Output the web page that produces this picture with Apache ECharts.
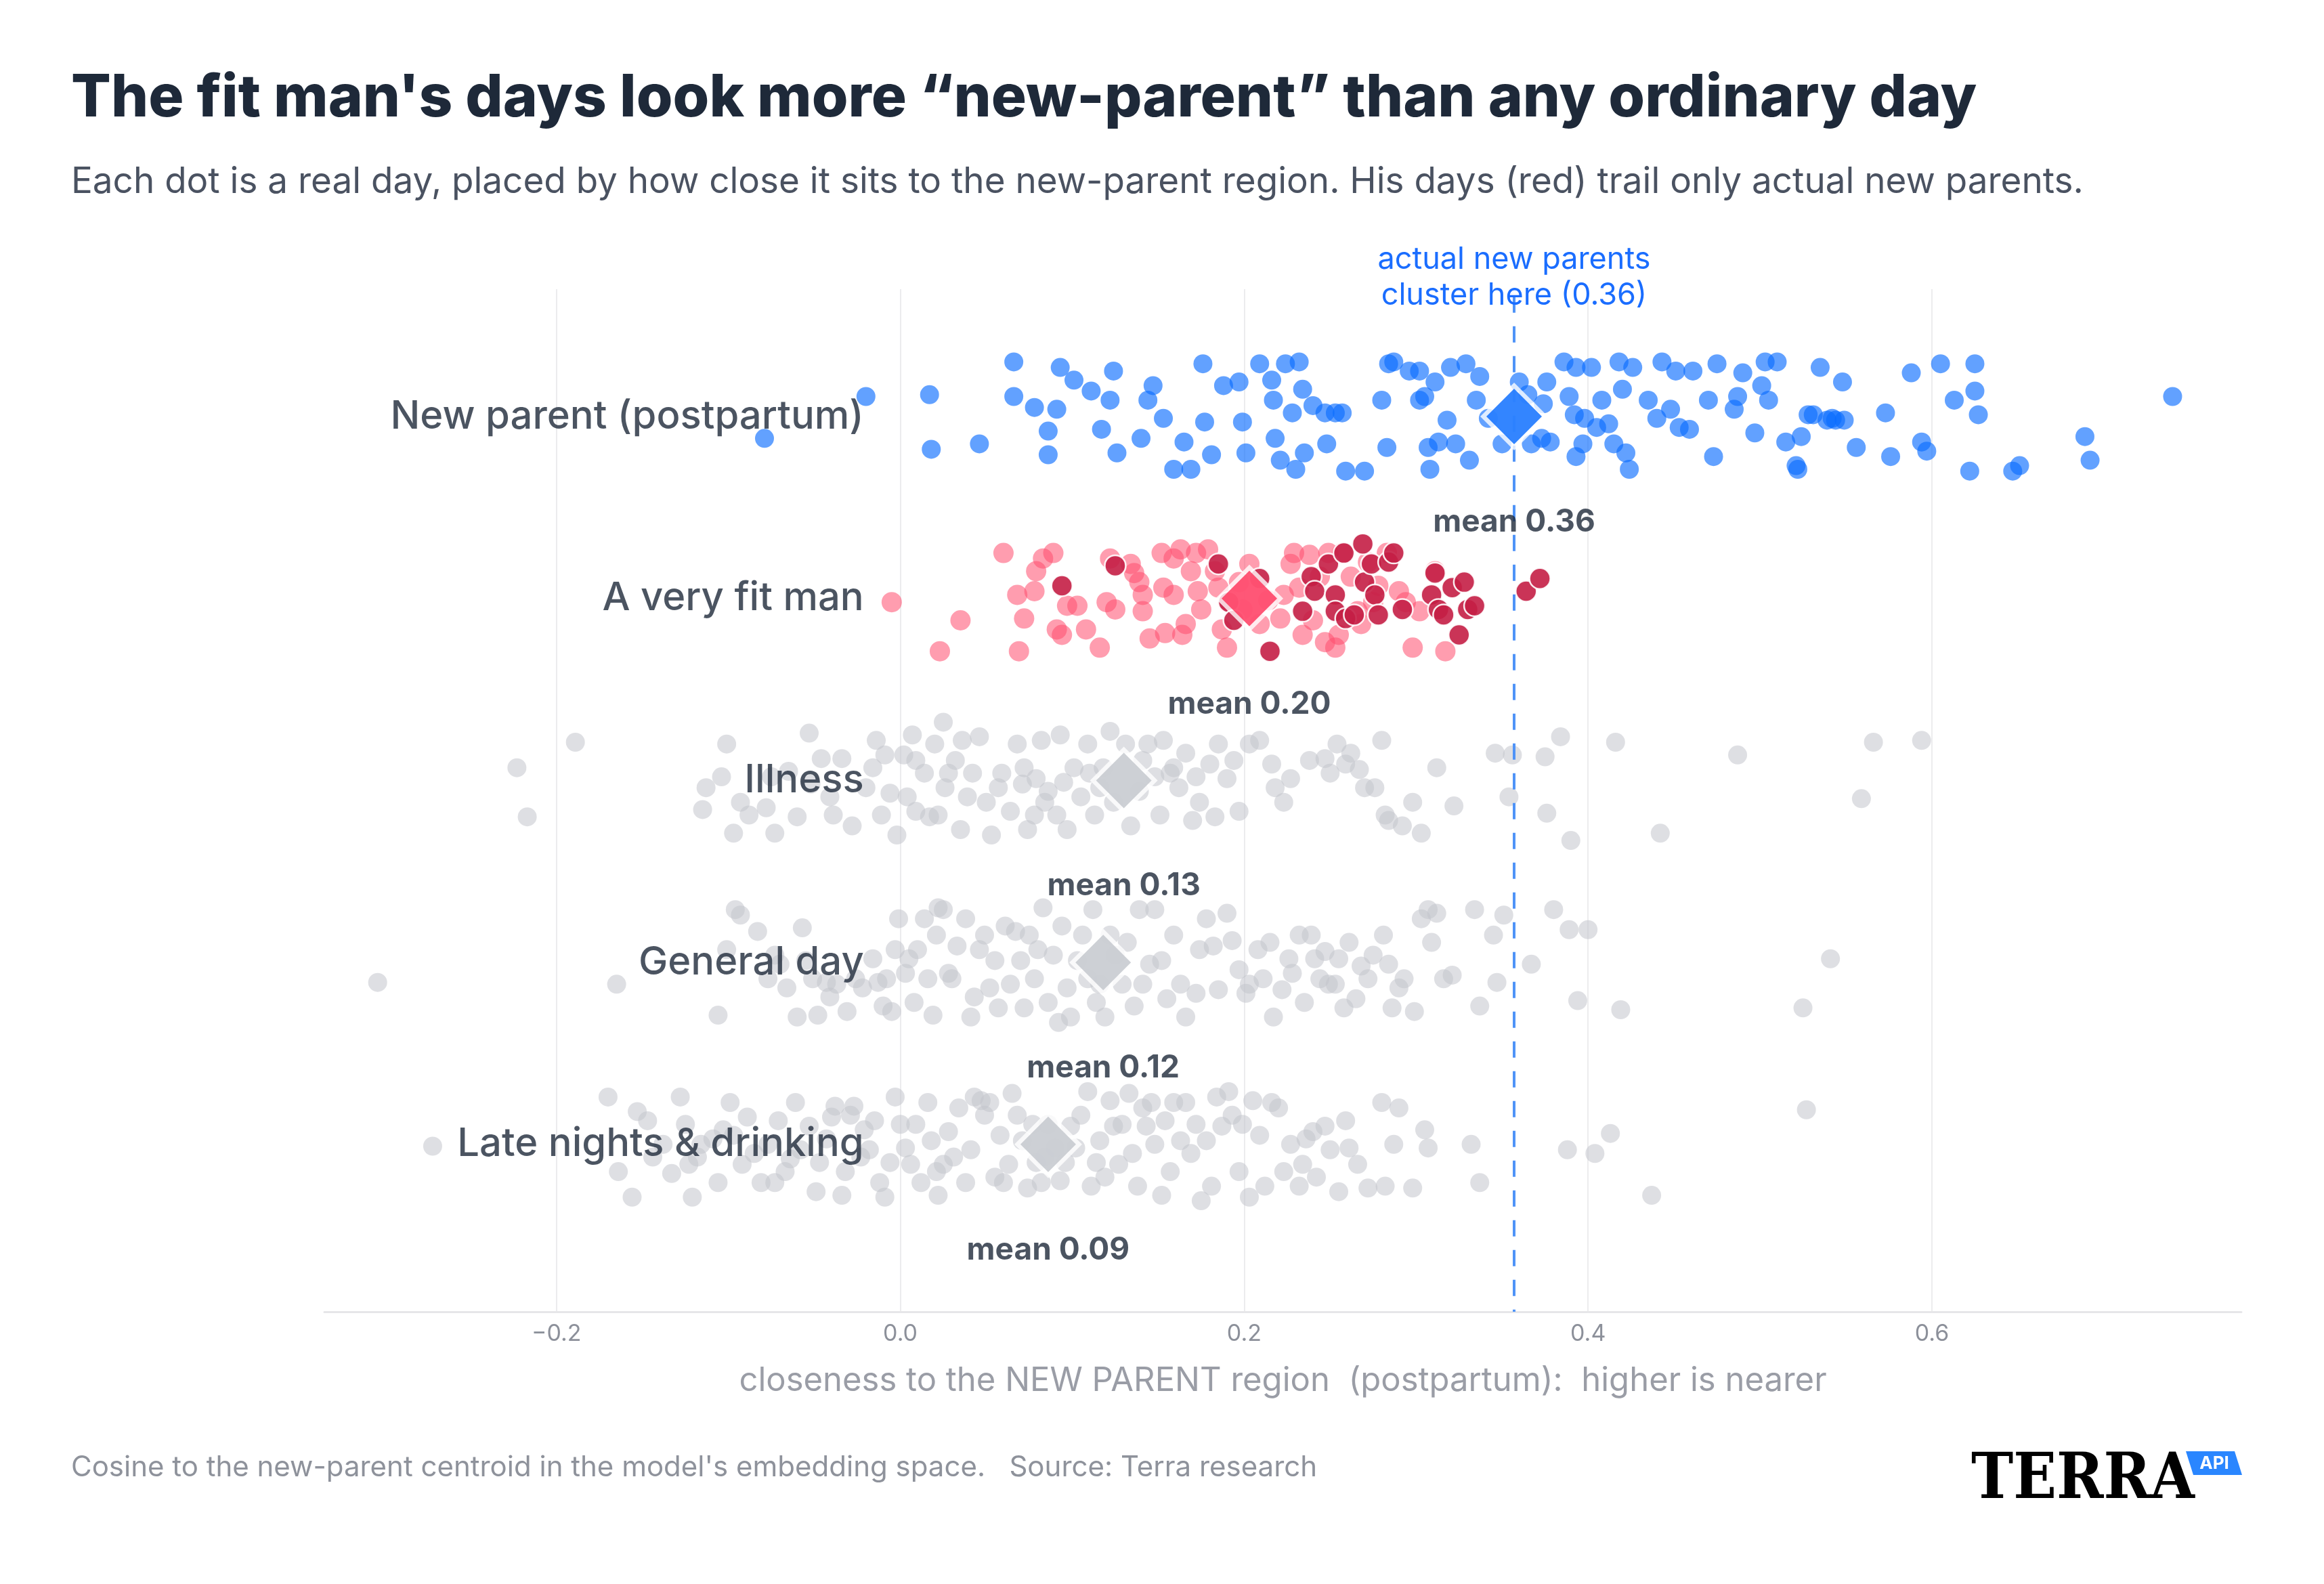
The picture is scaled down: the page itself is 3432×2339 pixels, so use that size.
<!DOCTYPE html>
<html>
<head>
<meta charset="utf-8">
<title>Closeness to the new-parent region</title>
<script src="https://cdn.jsdelivr.net/npm/echarts@6/dist/echarts.min.js"></script>
<style>
  html, body { margin: 0; padding: 0; background: #fff; }
  #chart { width: 3432px; height: 2339px; }
</style>
</head>
<body>
<div id="chart"></div>
<script>
const FONT = 'Inter, "Noto Sans", sans-serif';

const categories = ['New parent (postpartum)', 'A very fit man', 'Illness', 'General day', 'Late nights & drinking'];
const means = [0.357, 0.203, 0.130, 0.118, 0.086];
const NEW_PARENT_LINE = 0.357;

// closeness of each day to the new-parent centroid, and its vertical jitter inside the row
const newParentX = [
  -0.020, -0.079, 0.017, 0.018, 0.046, 0.066, 0.066, 0.078, 0.086, 0.086,
  0.093, 0.091, 0.101, 0.111, 0.117, 0.122, 0.124, 0.126, 0.140, 0.144,
  0.147, 0.153, 0.159, 0.169, 0.165, 0.176, 0.177, 0.181, 0.188, 0.197,
  0.199, 0.201, 0.209, 0.216, 0.217, 0.218, 0.221, 0.224, 0.228, 0.230,
  0.232, 0.234, 0.235, 0.240, 0.247, 0.253, 0.248, 0.259, 0.257, 0.270,
  0.280, 0.283, 0.284, 0.287, 0.296, 0.302, 0.302, 0.305, 0.307, 0.308,
  0.311, 0.313, 0.318, 0.320, 0.323, 0.329, 0.331, 0.335, 0.337, 0.342,
  0.350, 0.360, 0.365, 0.367, 0.373, 0.374, 0.376, 0.378, 0.386, 0.389,
  0.393, 0.392, 0.393, 0.397, 0.398, 0.402, 0.405, 0.408, 0.412, 0.415,
  0.418, 0.420, 0.422, 0.424, 0.426, 0.435, 0.440, 0.443, 0.448, 0.451,
  0.453, 0.459, 0.461, 0.470, 0.473, 0.475, 0.485, 0.487, 0.490, 0.497,
  0.501, 0.503, 0.505, 0.510, 0.515, 0.521, 0.522, 0.524, 0.528, 0.531,
  0.535, 0.539, 0.542, 0.544, 0.548, 0.549, 0.556, 0.573, 0.576, 0.588,
  0.594, 0.597, 0.605, 0.613, 0.622, 0.625, 0.625, 0.627, 0.647, 0.651,
  0.689, 0.692, 0.740
];
const newParentJitter = [
  -0.11, 0.12, -0.12, 0.18, 0.15, -0.30, -0.11, -0.05, 0.08, 0.21,
  -0.27, -0.04, -0.20, -0.14, 0.07, -0.09, -0.25, 0.20, 0.12, -0.09,
  -0.17, 0.01, 0.29, 0.29, 0.14, -0.29, 0.03, 0.21, -0.17, -0.19,
  0.03, 0.20, -0.29, -0.20, -0.09, 0.12, 0.24, -0.29, -0.02, 0.29,
  -0.30, -0.15, 0.20, -0.06, -0.02, -0.02, 0.15, 0.30, -0.02, 0.30,
  -0.09, 0.17, -0.29, -0.30, -0.25, -0.09, -0.25, -0.11, 0.17, 0.29,
  -0.19, 0.14, 0.02, -0.27, 0.15, -0.29, 0.24, -0.09, -0.22, 0.01,
  0.15, -0.19, -0.12, 0.15, 0.12, -0.07, -0.19, 0.14, -0.30, -0.11,
  0.22, -0.01, -0.27, 0.15, 0.01, -0.27, 0.06, -0.09, 0.04, 0.15,
  -0.30, -0.15, 0.20, 0.29, -0.27, -0.09, 0.01, -0.30, -0.04, -0.25,
  0.06, 0.07, -0.25, -0.09, 0.22, -0.29, -0.04, -0.11, -0.24, 0.09,
  -0.17, -0.30, -0.09, -0.30, 0.14, 0.27, 0.29, 0.11, -0.01, -0.01,
  -0.27, 0.02, 0.01, 0.02, -0.19, 0.02, 0.17, -0.02, 0.22, -0.24,
  0.14, 0.19, -0.29, -0.09, 0.30, -0.29, -0.14, -0.01, 0.30, 0.27,
  0.11, 0.24, -0.11
];

// fit man: ordinary days (light) and the strongest days (dark)
const fitLightX = [
  -0.005, 0.023, 0.035, 0.060, 0.068, 0.069, 0.072, 0.078, 0.079, 0.083,
  0.089, 0.091, 0.094, 0.097, 0.103, 0.108, 0.116, 0.120, 0.122, 0.125,
  0.134, 0.136, 0.139, 0.141, 0.141, 0.145, 0.152, 0.153, 0.154, 0.159,
  0.159, 0.163, 0.164, 0.166, 0.169, 0.172, 0.173, 0.175, 0.179, 0.183,
  0.185, 0.187, 0.190, 0.191, 0.197, 0.199, 0.203, 0.209, 0.214, 0.221,
  0.223, 0.227, 0.229, 0.232, 0.234, 0.238, 0.240, 0.244, 0.247, 0.249,
  0.253, 0.255, 0.257, 0.262, 0.266, 0.268, 0.272, 0.275, 0.278, 0.283,
  0.290, 0.294, 0.298, 0.302, 0.317, 0.311
];
const fitLightJitter = [
  0.02, 0.29, 0.12, -0.25, -0.02, 0.29, 0.11, -0.04, -0.15, -0.22,
  -0.25, 0.17, 0.20, 0.04, 0.04, 0.17, 0.27, 0.02, -0.22, 0.06,
  -0.19, -0.14, -0.09, -0.02, 0.07, 0.22, -0.25, -0.06, 0.19, -0.02,
  -0.22, -0.27, 0.20, 0.14, -0.15, -0.25, -0.04, 0.06, -0.27, -0.15,
  -0.06, 0.17, 0.27, 0.01, -0.09, 0.06, -0.19, 0.14, 0.01, 0.11,
  -0.02, -0.19, -0.25, -0.06, 0.20, -0.24, 0.12, -0.12, 0.24, -0.25,
  0.27, 0.20, -0.25, -0.12, 0.07, 0.14, -0.20, 0.02, -0.07, -0.25,
  -0.04, 0.02, 0.27, 0.07, 0.29, -0.15
];
const fitDarkX = [
  0.094, 0.125, 0.185, 0.191, 0.194, 0.209, 0.215, 0.234, 0.239, 0.241,
  0.249, 0.253, 0.253, 0.258, 0.259, 0.264, 0.269, 0.270, 0.274, 0.276,
  0.278, 0.284, 0.287, 0.292, 0.309, 0.311, 0.313, 0.316, 0.321, 0.325,
  0.328, 0.330, 0.334, 0.364, 0.372
];
const fitDarkJitter = [
  -0.07, -0.18, -0.19, 0.02, 0.12, -0.11, 0.29, 0.07, -0.12, -0.04,
  -0.19, -0.02, 0.07, -0.25, 0.11, 0.09, -0.30, -0.09, -0.19, -0.02,
  0.09, -0.20, -0.25, 0.06, -0.02, -0.14, 0.06, 0.09, -0.06, 0.20,
  -0.09, 0.06, 0.04, -0.04, -0.11
];

const illnessX = [
  -0.223, -0.217, -0.189, -0.115, -0.113, -0.104, -0.101, -0.097, -0.093, -0.088,
  -0.078, -0.075, -0.073, -0.065, -0.060, -0.053, -0.052, -0.046, -0.041, -0.039,
  -0.034, -0.028, -0.020, -0.016, -0.014, -0.011, -0.009, -0.006, -0.002, 0.002,
  0.004, 0.007, 0.009, 0.009, 0.014, 0.017, 0.020, 0.022, 0.025, 0.026,
  0.028, 0.032, 0.035, 0.036, 0.039, 0.042, 0.046, 0.050, 0.053, 0.057,
  0.059, 0.064, 0.068, 0.071, 0.072, 0.074, 0.078, 0.079, 0.082, 0.084,
  0.086, 0.091, 0.093, 0.095, 0.097, 0.101, 0.105, 0.109, 0.110, 0.113,
  0.116, 0.118, 0.122, 0.124, 0.131, 0.134, 0.139, 0.141, 0.144, 0.148,
  0.151, 0.153, 0.157, 0.159, 0.162, 0.166, 0.170, 0.172, 0.174, 0.180,
  0.183, 0.185, 0.190, 0.194, 0.197, 0.203, 0.209, 0.216, 0.218, 0.223,
  0.227, 0.238, 0.247, 0.250, 0.254, 0.259, 0.262, 0.267, 0.270, 0.276,
  0.280, 0.282, 0.284, 0.292, 0.298, 0.303, 0.312, 0.322, 0.346, 0.354,
  0.356, 0.375, 0.376, 0.384, 0.390, 0.416, 0.442, 0.487, 0.559, 0.566,
  0.594
];
const illnessJitter = [
  -0.07, 0.20, -0.21, 0.16, 0.04, -0.02, -0.20, 0.29, 0.12, 0.19,
  0.15, -0.02, 0.29, -0.05, 0.20, -0.26, 0.02, -0.12, 0.09, 0.19,
  -0.12, 0.25, 0.04, -0.07, -0.22, 0.19, -0.14, 0.07, 0.30, -0.14,
  0.09, -0.25, -0.11, 0.17, -0.04, 0.20, -0.20, 0.19, -0.32, 0.04,
  -0.04, -0.11, 0.27, -0.22, 0.09, -0.04, -0.24, 0.12, 0.30, 0.04,
  -0.04, 0.17, -0.20, 0.02, -0.07, 0.27, 0.19, -0.01, -0.22, 0.12,
  0.06, 0.19, -0.25, 0.01, 0.27, -0.07, 0.09, -0.20, -0.04, 0.19,
  0.04, -0.07, -0.27, 0.12, -0.20, 0.25, 0.06, -0.11, -0.20, -0.02,
  0.19, -0.22, -0.04, -0.07, 0.04, -0.15, 0.22, -0.02, 0.12, -0.09,
  0.20, -0.20, -0.01, -0.11, 0.17, -0.20, -0.22, -0.09, 0.04, 0.12,
  -0.01, -0.11, -0.12, -0.04, -0.20, -0.09, -0.15, -0.06, 0.04, 0.04,
  -0.22, 0.19, 0.22, 0.25, 0.12, 0.29, -0.07, 0.14, -0.15, 0.09,
  -0.14, -0.13, 0.18, -0.24, 0.33, -0.21, 0.29, -0.14, 0.10, -0.21,
  -0.22
];

const generalX = [
  -0.304, -0.165, -0.106, -0.101, -0.096, -0.093, -0.083, -0.077, -0.073, -0.070,
  -0.066, -0.060, -0.057, -0.055, -0.051, -0.048, -0.043, -0.041, -0.037, -0.031,
  -0.026, -0.022, -0.016, -0.013, -0.010, -0.008, -0.005, -0.003, -0.001, 0.003,
  0.005, 0.008, 0.010, 0.014, 0.016, 0.019, 0.021, 0.022, 0.025, 0.028,
  0.030, 0.033, 0.038, 0.041, 0.043, 0.046, 0.049, 0.052, 0.055, 0.057,
  0.061, 0.064, 0.067, 0.070, 0.072, 0.075, 0.078, 0.080, 0.083, 0.086,
  0.089, 0.092, 0.094, 0.097, 0.099, 0.103, 0.106, 0.109, 0.112, 0.114,
  0.116, 0.119, 0.122, 0.125, 0.129, 0.132, 0.136, 0.139, 0.141, 0.145,
  0.148, 0.152, 0.155, 0.159, 0.163, 0.166, 0.172, 0.174, 0.178, 0.182,
  0.185, 0.190, 0.193, 0.197, 0.201, 0.203, 0.208, 0.211, 0.215, 0.217,
  0.222, 0.226, 0.228, 0.232, 0.235, 0.239, 0.241, 0.244, 0.247, 0.249,
  0.253, 0.255, 0.258, 0.261, 0.265, 0.268, 0.272, 0.275, 0.281, 0.284,
  0.286, 0.290, 0.293, 0.299, 0.303, 0.307, 0.309, 0.312, 0.316, 0.321,
  0.334, 0.337, 0.345, 0.347, 0.351, 0.367, 0.380, 0.389, 0.394, 0.400,
  0.419, 0.525, 0.541
];
const generalJitter = [
  0.11, 0.12, 0.29, -0.07, -0.29, -0.26, -0.17, 0.09, -0.04, 0.01,
  0.14, 0.30, -0.19, -0.01, 0.09, 0.29, 0.11, 0.19, 0.12, 0.27,
  0.09, 0.14, -0.02, 0.11, 0.24, 0.09, 0.27, -0.07, -0.24, 0.06,
  -0.02, 0.22, -0.07, -0.24, 0.09, 0.29, -0.15, -0.30, -0.29, 0.06,
  0.09, -0.09, -0.24, 0.30, 0.19, -0.07, -0.15, 0.14, -0.01, 0.25,
  -0.20, 0.12, -0.17, -0.01, 0.25, -0.15, 0.09, -0.07, -0.30, 0.22,
  -0.04, 0.33, -0.20, 0.14, 0.30, -0.01, -0.15, 0.09, -0.29, 0.22,
  0.12, 0.30, -0.15, -0.04, 0.12, -0.11, 0.24, -0.29, 0.12, 0.01,
  -0.29, -0.01, 0.20, -0.15, 0.12, 0.30, 0.17, -0.07, -0.24, -0.09,
  0.15, -0.27, -0.12, 0.04, 0.17, 0.12, -0.07, 0.09, -0.11, 0.30,
  0.15, -0.02, 0.06, -0.15, 0.22, -0.15, -0.02, 0.09, -0.06, 0.12,
  0.12, -0.02, 0.25, -0.11, 0.20, 0.02, 0.09, -0.04, -0.15, 0.01,
  0.25, 0.14, 0.09, 0.27, -0.24, -0.29, -0.11, -0.27, 0.09, 0.07,
  -0.29, 0.24, -0.15, 0.11, -0.26, 0.01, -0.29, -0.18, 0.21, -0.18,
  0.26, 0.25, -0.02
];

const lateX = [
  -0.272, -0.170, -0.164, -0.156, -0.153, -0.147, -0.144, -0.138, -0.133, -0.128,
  -0.125, -0.123, -0.121, -0.118, -0.116, -0.109, -0.106, -0.103, -0.099, -0.097,
  -0.092, -0.089, -0.085, -0.081, -0.077, -0.073, -0.071, -0.067, -0.064, -0.061,
  -0.058, -0.053, -0.049, -0.047, -0.043, -0.040, -0.038, -0.034, -0.032, -0.029,
  -0.027, -0.023, -0.021, -0.018, -0.015, -0.012, -0.009, -0.006, -0.003, 0.000,
  0.003, 0.006, 0.009, 0.012, 0.016, 0.018, 0.021, 0.022, 0.025, 0.028,
  0.031, 0.034, 0.038, 0.041, 0.043, 0.047, 0.049, 0.052, 0.055, 0.058,
  0.060, 0.063, 0.065, 0.068, 0.071, 0.074, 0.077, 0.079, 0.082, 0.084,
  0.086, 0.090, 0.093, 0.096, 0.099, 0.102, 0.105, 0.109, 0.111, 0.114,
  0.116, 0.119, 0.122, 0.124, 0.127, 0.129, 0.133, 0.135, 0.138, 0.141,
  0.143, 0.146, 0.148, 0.152, 0.154, 0.157, 0.159, 0.163, 0.166, 0.169,
  0.172, 0.175, 0.178, 0.181, 0.184, 0.187, 0.191, 0.193, 0.197, 0.199,
  0.203, 0.205, 0.209, 0.212, 0.216, 0.220, 0.223, 0.227, 0.232, 0.234,
  0.236, 0.240, 0.242, 0.247, 0.250, 0.255, 0.259, 0.261, 0.266, 0.272,
  0.280, 0.282, 0.287, 0.290, 0.298, 0.305, 0.307, 0.332, 0.337, 0.388,
  0.404, 0.413, 0.437, 0.527
];
const lateJitter = [
  0.01, -0.26, 0.15, 0.29, -0.18, -0.13, 0.07, 0.00, 0.16, -0.26,
  -0.11, 0.11, 0.29, 0.07, 0.00, -0.03, 0.21, -0.08, -0.23, -0.05,
  0.11, -0.15, 0.05, 0.21, 0.00, 0.21, -0.13, 0.15, 0.08, -0.23,
  0.03, -0.10, 0.26, 0.10, -0.03, -0.15, -0.21, 0.28, 0.15, -0.16,
  -0.21, 0.07, -0.08, 0.03, -0.13, 0.21, 0.29, 0.10, -0.26, -0.11,
  0.02, 0.11, -0.11, 0.21, -0.23, -0.02, 0.15, 0.28, 0.11, -0.07,
  0.07, -0.20, 0.21, 0.03, -0.26, -0.24, -0.16, -0.23, 0.18, -0.05,
  0.21, 0.11, -0.28, -0.16, -0.02, 0.24, -0.11, 0.10, 0.21, 0.07,
  -0.11, 0.02, 0.20, 0.10, -0.10, 0.02, -0.16, -0.29, 0.23, 0.10,
  -0.02, 0.18, -0.24, -0.10, 0.11, -0.11, -0.28, 0.05, 0.23, -0.20,
  -0.10, -0.23, 0.00, 0.28, -0.13, 0.15, -0.23, -0.02, -0.23, 0.05,
  -0.11, 0.31, -0.02, 0.23, -0.26, -0.10, -0.29, -0.16, 0.15, -0.11,
  0.29, -0.24, -0.05, 0.23, -0.23, -0.20, 0.15, 0.00, 0.23, 0.11,
  -0.03, -0.07, 0.18, -0.10, 0.03, 0.26, -0.13, 0.02, 0.11, 0.24,
  -0.23, 0.23, 0.00, -0.20, 0.24, -0.08, 0.02, 0.00, 0.21, 0.03,
  0.05, -0.06, 0.28, -0.19
];

// row labels sit just left of zero, inside the plot
const LABEL_X = -0.021;
// y range of the plot (rows are 0..4, top to bottom)
const Y_MIN = -0.70;
const Y_MAX = 4.92;

const meanColors = ['#0066ff', '#ff2d55', '#c1c4cb', '#c1c4cb', '#c1c4cb'];

const toPoints = (xs, jitter, row) => xs.map((v, k) => [v, row + jitter[k]]);

const dots = (data, size, itemStyle, z) => ({
  type: 'scatter',
  data,
  symbolSize: size,
  itemStyle,
  z,
  silent: true
});

const greyDot = { color: '#c3c5cc', opacity: 0.55 };

const chart = echarts.init(document.getElementById('chart'));

chart.setOption({
  animation: false,
  backgroundColor: '#ffffff',
  textStyle: { fontFamily: FONT },
  title: [
    {
      text: 'The fit man\'s days look more \u201cnew-parent\u201d than any ordinary day',
      left: 100, top: 97,
      textStyle: { fontFamily: FONT, fontSize: 87, fontWeight: 800, color: '#1e2939' }
    },
    {
      text: 'Each dot is a real day, placed by how close it sits to the new-parent region. His days (red) trail only actual new parents.',
      left: 100, top: 238,
      textStyle: { fontFamily: FONT, fontSize: 53, fontWeight: 400, color: '#4a5261' }
    },
    {
      text: 'Cosine to the new-parent centroid in the model\'s embedding space.   Source: Terra research',
      left: 100, top: 2141,
      textStyle: { fontFamily: FONT, fontSize: 42, fontWeight: 400, color: '#8e929b' }
    }
  ],
  grid: { left: 479, right: 122, top: 427, bottom: 402 },
  xAxis: {
    type: 'value',
    min: -0.335,
    max: 0.78,
    splitNumber: 5,
    axisLine: { show: true, onZero: false, lineStyle: { color: '#e6e6e9', width: 3 } },
    axisTick: { show: false },
    axisLabel: {
      color: '#8c909a', fontSize: 34, fontFamily: FONT, margin: 16,
      showMinLabel: false, showMaxLabel: false,
      formatter: v => v.toFixed(1).replace('-', '\u2212')
    },
    splitLine: { show: true, showMinLine: false, showMaxLine: false, lineStyle: { color: '#ececee', width: 2 } },
    name: 'closeness to the NEW PARENT region  (postpartum):  higher is nearer',
    nameLocation: 'middle',
    nameGap: 78,
    nameTextStyle: { color: '#9a9da6', fontSize: 49, fontFamily: FONT }
  },
  yAxis: { type: 'value', min: Y_MIN, max: Y_MAX, inverse: true, show: false },
  series: [
    dots(toPoints(newParentX, newParentJitter, 0), 28, { color: '#0a6cff', opacity: 0.64 }, 2),
    dots(toPoints(fitLightX, fitLightJitter, 1), 30, { color: '#ff4d6d', opacity: 0.55 }, 2),
    dots(toPoints(fitDarkX, fitDarkJitter, 1), 31, { color: '#c41e45', opacity: 0.9, borderColor: '#fff', borderWidth: 2.5 }, 3),
    dots(toPoints(illnessX, illnessJitter, 2), 28, greyDot, 2),
    dots(toPoints(generalX, generalJitter, 3), 28, greyDot, 2),
    dots(toPoints(lateX, lateJitter, 4), 28, greyDot, 2),
    // dashed reference line where actual new parents cluster, drawn over the dots
    {
      type: 'line',
      z: 4,
      silent: true,
      showSymbol: false,
      data: [[NEW_PARENT_LINE, Y_MIN + 0.04], [NEW_PARENT_LINE, Y_MAX]],
      lineStyle: { color: '#4f93f7', type: [24, 20], width: 4 }
    },
    // white halo behind each mean marker
    {
      type: 'scatter',
      z: 5,
      silent: true,
      symbol: 'diamond',
      symbolSize: 100,
      itemStyle: { color: '#ffffff' },
      data: means.map((m, i) => [m, i])
    },
    // group means
    {
      type: 'scatter',
      z: 6,
      silent: true,
      symbol: 'diamond',
      symbolSize: 82,
      data: means.map((m, i) => ({ value: [m, i], itemStyle: { color: meanColors[i] } })),
      label: {
        show: true, position: 'bottom', distance: 92,
        formatter: p => 'mean ' + means[p.dataIndex].toFixed(2),
        fontFamily: FONT, fontSize: 46, fontWeight: 700, color: '#1e2939'
      }
    },
    // row names
    {
      type: 'scatter',
      z: 7,
      silent: true,
      symbolSize: 1,
      itemStyle: { color: 'rgba(0,0,0,0)' },
      data: categories.map((c, i) => [LABEL_X, i]),
      label: {
        show: true, position: 'left', distance: 0,
        formatter: p => categories[p.dataIndex],
        fontFamily: FONT, fontSize: 58, fontWeight: 500, color: '#1e2939'
      }
    }
  ]
});

// annotation over the dashed line and the logo
const lineX = chart.convertToPixel({ xAxisIndex: 0 }, NEW_PARENT_LINE);
chart.setOption({
  graphic: [
    {
      type: 'text', x: lineX, y: 410, z: 10,
      style: {
        text: 'actual new parents\ncluster here (0.36)',
        x: 0, y: 0, align: 'center', verticalAlign: 'middle',
        fill: '#1a6dff', font: '45px ' + FONT, lineHeight: 53
      }
    },
    {
      type: 'text', x: 2911, y: 2188, z: 10, scaleX: 0.89,
      style: {
        text: 'TERRA', align: 'left', verticalAlign: 'middle',
        fill: '#000000', font: 'bold 94px "DejaVu Serif", serif'
      }
    },
    {
      type: 'polygon', z: 10,
      shape: { points: [[3228, 2143], [3300, 2143], [3311, 2178], [3239, 2178]] },
      style: { fill: '#2a86ff' }
    },
    {
      type: 'text', x: 3270, y: 2161, z: 11,
      style: {
        text: 'API', align: 'center', verticalAlign: 'middle',
        fill: '#ffffff', font: 'bold 26px ' + FONT
      }
    }
  ]
});
</script>
</body>
</html>
